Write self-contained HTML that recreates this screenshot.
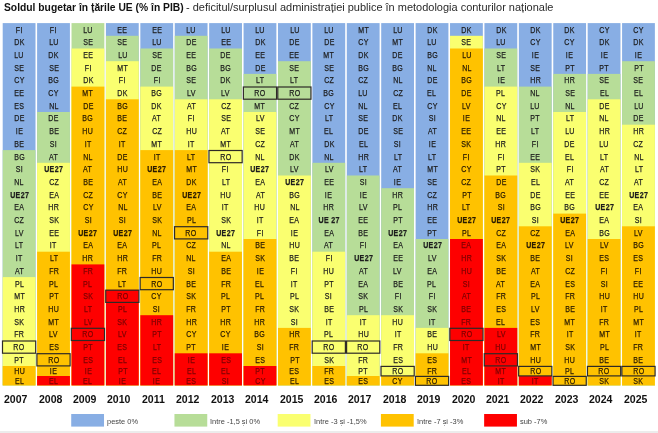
<!DOCTYPE html>
<html lang="ro">
<head>
<meta charset="utf-8">
<title>Soldul bugetar în țările UE</title>
<style>
html,body{margin:0;padding:0;background:#fff;}
body{width:658px;height:433px;position:relative;overflow:hidden;filter:blur(.5px);font-family:"Liberation Sans",sans-serif;color:#1c1c1c;}
#bg{position:absolute;left:0;top:0;}
#t1,#t2{position:absolute;white-space:nowrap;line-height:14px;transform-origin:0 0;}
#t1{left:4.2px;top:.3px;font-size:10.6px;font-weight:bold;color:#111;transform:scaleX(.972);}
#t2{left:185.5px;top:.1px;font-size:11.3px;color:#2a2a2a;transform:scaleX(.972);}
.c{position:absolute;top:0;width:32.8px;}
.c div{position:absolute;left:0;width:100%;text-align:center;font-size:8.7px;}
.c div span{display:inline-block;position:relative;top:.45px;transform:scaleX(.81);-webkit-text-stroke:.25px currentColor;letter-spacing:.4px;margin-right:-.4px;}
.c div.l span{top:.6px;}
.o{color:#2a1b00;}
.r{color:#7c0000;}
.u{font-weight:bold;}
.yr{position:absolute;top:390.6px;width:34px;text-align:center;font-weight:bold;font-size:11.4px;line-height:16px;color:#111;}
.yr span{display:inline-block;transform:scaleX(.925);}
.lg{position:absolute;top:414.5px;font-size:7.6px;line-height:13px;white-space:nowrap;color:#444;transform-origin:0 50%;transform:scaleX(.98);}
</style>
</head>
<body>

<svg id="bg" width="658" height="433" viewBox="0 0 658 433">
<rect x="0" y="431" width="658" height="2" fill="#ececec"/>
<rect x="2.70" y="23.10" width="32.8" height="362.30" fill="#88aee4"/>
<rect x="2.70" y="150.10" width="32.8" height="235.30" fill="#b7dd98"/>
<rect x="2.70" y="277.10" width="32.8" height="108.30" fill="#faff70"/>
<rect x="2.70" y="366.00" width="32.8" height="19.40" fill="#ffc200"/>
<rect x="37.11" y="23.10" width="32.8" height="362.30" fill="#88aee4"/>
<rect x="37.11" y="112.00" width="32.8" height="273.40" fill="#b7dd98"/>
<rect x="37.11" y="162.80" width="32.8" height="222.60" fill="#faff70"/>
<rect x="37.11" y="251.70" width="32.8" height="133.70" fill="#ffc200"/>
<rect x="37.11" y="376.00" width="32.8" height="9.40" fill="#fe0000"/>
<rect x="71.52" y="23.10" width="32.8" height="362.30" fill="#b7dd98"/>
<rect x="71.52" y="48.50" width="32.8" height="336.90" fill="#faff70"/>
<rect x="71.52" y="86.60" width="32.8" height="298.80" fill="#ffc200"/>
<rect x="71.52" y="264.40" width="32.8" height="121.00" fill="#fe0000"/>
<rect x="105.93" y="23.10" width="32.8" height="362.30" fill="#88aee4"/>
<rect x="105.93" y="35.80" width="32.8" height="349.60" fill="#b7dd98"/>
<rect x="105.93" y="61.20" width="32.8" height="324.20" fill="#faff70"/>
<rect x="105.93" y="99.30" width="32.8" height="286.10" fill="#ffc200"/>
<rect x="105.93" y="289.80" width="32.8" height="95.60" fill="#fe0000"/>
<rect x="140.34" y="23.10" width="32.8" height="362.30" fill="#88aee4"/>
<rect x="140.34" y="48.50" width="32.8" height="336.90" fill="#b7dd98"/>
<rect x="140.34" y="86.60" width="32.8" height="298.80" fill="#faff70"/>
<rect x="140.34" y="150.10" width="32.8" height="235.30" fill="#ffc200"/>
<rect x="140.34" y="315.20" width="32.8" height="70.20" fill="#fe0000"/>
<rect x="174.75" y="23.10" width="32.8" height="362.30" fill="#88aee4"/>
<rect x="174.75" y="35.80" width="32.8" height="349.60" fill="#b7dd98"/>
<rect x="174.75" y="99.30" width="32.8" height="286.10" fill="#faff70"/>
<rect x="174.75" y="150.10" width="32.8" height="235.30" fill="#ffc200"/>
<rect x="174.75" y="353.30" width="32.8" height="32.10" fill="#fe0000"/>
<rect x="209.16" y="23.10" width="32.8" height="362.30" fill="#88aee4"/>
<rect x="209.16" y="48.50" width="32.8" height="336.90" fill="#b7dd98"/>
<rect x="209.16" y="99.30" width="32.8" height="286.10" fill="#faff70"/>
<rect x="209.16" y="251.70" width="32.8" height="133.70" fill="#ffc200"/>
<rect x="209.16" y="353.30" width="32.8" height="32.10" fill="#fe0000"/>
<rect x="243.57" y="23.10" width="32.8" height="362.30" fill="#88aee4"/>
<rect x="243.57" y="73.90" width="32.8" height="311.50" fill="#b7dd98"/>
<rect x="243.57" y="112.00" width="32.8" height="273.40" fill="#faff70"/>
<rect x="243.57" y="239.00" width="32.8" height="146.40" fill="#ffc200"/>
<rect x="243.57" y="366.00" width="32.8" height="19.40" fill="#fe0000"/>
<rect x="277.98" y="23.10" width="32.8" height="362.30" fill="#88aee4"/>
<rect x="277.98" y="61.20" width="32.8" height="324.20" fill="#b7dd98"/>
<rect x="277.98" y="175.50" width="32.8" height="209.90" fill="#faff70"/>
<rect x="277.98" y="327.90" width="32.8" height="57.50" fill="#ffc200"/>
<rect x="312.39" y="23.10" width="32.8" height="362.30" fill="#88aee4"/>
<rect x="312.39" y="162.80" width="32.8" height="222.60" fill="#b7dd98"/>
<rect x="312.39" y="251.70" width="32.8" height="133.70" fill="#faff70"/>
<rect x="312.39" y="366.00" width="32.8" height="19.40" fill="#ffc200"/>
<rect x="346.80" y="23.10" width="32.8" height="362.30" fill="#88aee4"/>
<rect x="346.80" y="175.50" width="32.8" height="209.90" fill="#b7dd98"/>
<rect x="346.80" y="315.20" width="32.8" height="70.20" fill="#faff70"/>
<rect x="346.80" y="376.00" width="32.8" height="9.40" fill="#ffc200"/>
<rect x="381.21" y="23.10" width="32.8" height="362.30" fill="#88aee4"/>
<rect x="381.21" y="188.20" width="32.8" height="197.20" fill="#b7dd98"/>
<rect x="381.21" y="315.20" width="32.8" height="70.20" fill="#faff70"/>
<rect x="381.21" y="376.00" width="32.8" height="9.40" fill="#ffc200"/>
<rect x="415.62" y="23.10" width="32.8" height="362.30" fill="#88aee4"/>
<rect x="415.62" y="239.00" width="32.8" height="146.40" fill="#b7dd98"/>
<rect x="415.62" y="327.90" width="32.8" height="57.50" fill="#faff70"/>
<rect x="415.62" y="353.30" width="32.8" height="32.10" fill="#ffc200"/>
<rect x="450.03" y="23.10" width="32.8" height="362.30" fill="#88aee4"/>
<rect x="450.03" y="35.80" width="32.8" height="349.60" fill="#faff70"/>
<rect x="450.03" y="48.50" width="32.8" height="336.90" fill="#ffc200"/>
<rect x="450.03" y="239.00" width="32.8" height="146.40" fill="#fe0000"/>
<rect x="484.44" y="23.10" width="32.8" height="362.30" fill="#88aee4"/>
<rect x="484.44" y="48.50" width="32.8" height="336.90" fill="#b7dd98"/>
<rect x="484.44" y="86.60" width="32.8" height="298.80" fill="#faff70"/>
<rect x="484.44" y="175.50" width="32.8" height="209.90" fill="#ffc200"/>
<rect x="484.44" y="327.90" width="32.8" height="57.50" fill="#fe0000"/>
<rect x="518.85" y="23.10" width="32.8" height="362.30" fill="#88aee4"/>
<rect x="518.85" y="86.60" width="32.8" height="298.80" fill="#b7dd98"/>
<rect x="518.85" y="162.80" width="32.8" height="222.60" fill="#faff70"/>
<rect x="518.85" y="226.30" width="32.8" height="159.10" fill="#ffc200"/>
<rect x="518.85" y="376.00" width="32.8" height="9.40" fill="#fe0000"/>
<rect x="553.26" y="23.10" width="32.8" height="362.30" fill="#88aee4"/>
<rect x="553.26" y="73.90" width="32.8" height="311.50" fill="#b7dd98"/>
<rect x="553.26" y="112.00" width="32.8" height="273.40" fill="#faff70"/>
<rect x="553.26" y="213.60" width="32.8" height="171.80" fill="#ffc200"/>
<rect x="587.67" y="23.10" width="32.8" height="362.30" fill="#88aee4"/>
<rect x="587.67" y="73.90" width="32.8" height="311.50" fill="#b7dd98"/>
<rect x="587.67" y="99.30" width="32.8" height="286.10" fill="#faff70"/>
<rect x="587.67" y="239.00" width="32.8" height="146.40" fill="#ffc200"/>
<rect x="622.08" y="23.10" width="32.8" height="362.30" fill="#88aee4"/>
<rect x="622.08" y="61.20" width="32.8" height="324.20" fill="#b7dd98"/>
<rect x="622.08" y="124.70" width="32.8" height="260.70" fill="#faff70"/>
<rect x="622.08" y="226.30" width="32.8" height="159.10" fill="#ffc200"/>
<g fill="none" stroke="#2e2a26" stroke-width="1.2">
<rect x="2.50" y="341.00" width="33.20" height="12.20"/>
<rect x="36.91" y="353.70" width="33.20" height="12.20"/>
<rect x="71.32" y="328.30" width="33.20" height="12.20"/>
<rect x="105.73" y="290.20" width="33.20" height="12.20"/>
<rect x="140.14" y="277.50" width="33.20" height="12.20"/>
<rect x="174.55" y="226.70" width="33.20" height="12.20"/>
<rect x="208.96" y="150.50" width="33.20" height="12.20"/>
<rect x="243.37" y="87.00" width="33.20" height="12.20"/>
<rect x="277.78" y="87.00" width="33.20" height="12.20"/>
<rect x="312.19" y="341.00" width="33.20" height="12.20"/>
<rect x="346.60" y="341.00" width="33.20" height="12.20"/>
<rect x="381.01" y="366.40" width="33.20" height="9.50"/>
<rect x="415.42" y="376.40" width="33.20" height="8.90"/>
<rect x="449.83" y="328.30" width="33.20" height="12.20"/>
<rect x="484.24" y="353.70" width="33.20" height="12.20"/>
<rect x="518.65" y="366.40" width="33.20" height="9.50"/>
<rect x="553.06" y="376.40" width="33.20" height="8.90"/>
<rect x="587.47" y="366.40" width="33.20" height="9.50"/>
<rect x="621.88" y="366.40" width="33.20" height="9.50"/>
</g>
<rect x="71.22" y="414" width="32.8" height="12.6" fill="#88aee4"/>
<rect x="174.45" y="414" width="32.8" height="12.6" fill="#b7dd98"/>
<rect x="277.68" y="414" width="32.8" height="12.6" fill="#faff70"/>
<rect x="380.91" y="414" width="32.8" height="12.6" fill="#ffc200"/>
<rect x="484.14" y="414" width="32.8" height="12.6" fill="#fe0000"/>
</svg>
<div id="t1">Soldul bugetar în țările UE (% în PIB)</div><div id="t2">- deficitul/surplusul administrației publice în metodologia conturilor naționale</div>
<div class="c" style="left:2.70px">
<div style="top:23.10px;height:12.70px;line-height:12.70px"><span>FI</span></div>
<div style="top:35.80px;height:12.70px;line-height:12.70px"><span>DK</span></div>
<div style="top:48.50px;height:12.70px;line-height:12.70px"><span>LU</span></div>
<div style="top:61.20px;height:12.70px;line-height:12.70px"><span>SE</span></div>
<div style="top:73.90px;height:12.70px;line-height:12.70px"><span>CY</span></div>
<div style="top:86.60px;height:12.70px;line-height:12.70px"><span>EE</span></div>
<div style="top:99.30px;height:12.70px;line-height:12.70px"><span>ES</span></div>
<div style="top:112.00px;height:12.70px;line-height:12.70px"><span>DE</span></div>
<div style="top:124.70px;height:12.70px;line-height:12.70px"><span>IE</span></div>
<div style="top:137.40px;height:12.70px;line-height:12.70px"><span>BE</span></div>
<div style="top:150.10px;height:12.70px;line-height:12.70px"><span>BG</span></div>
<div style="top:162.80px;height:12.70px;line-height:12.70px"><span>SI</span></div>
<div style="top:175.50px;height:12.70px;line-height:12.70px"><span>NL</span></div>
<div class="u" style="top:188.20px;height:12.70px;line-height:12.70px"><span>UE27</span></div>
<div style="top:200.90px;height:12.70px;line-height:12.70px"><span>EA</span></div>
<div style="top:213.60px;height:12.70px;line-height:12.70px"><span>CZ</span></div>
<div style="top:226.30px;height:12.70px;line-height:12.70px"><span>LV</span></div>
<div style="top:239.00px;height:12.70px;line-height:12.70px"><span>LT</span></div>
<div style="top:251.70px;height:12.70px;line-height:12.70px"><span>IT</span></div>
<div style="top:264.40px;height:12.70px;line-height:12.70px"><span>AT</span></div>
<div style="top:277.10px;height:12.70px;line-height:12.70px"><span>PL</span></div>
<div style="top:289.80px;height:12.70px;line-height:12.70px"><span>MT</span></div>
<div style="top:302.50px;height:12.70px;line-height:12.70px"><span>HR</span></div>
<div style="top:315.20px;height:12.70px;line-height:12.70px"><span>SK</span></div>
<div style="top:327.90px;height:12.70px;line-height:12.70px"><span>FR</span></div>
<div style="top:340.60px;height:12.70px;line-height:12.70px"><span>RO</span></div>
<div style="top:353.30px;height:12.70px;line-height:12.70px"><span>PT</span></div>
<div class="o" style="top:366.00px;height:10.00px;line-height:10.00px"><span>HU</span></div>
<div class="o l" style="top:376.00px;height:9.40px;line-height:9.40px"><span>EL</span></div>
</div>
<div class="c" style="left:37.11px">
<div style="top:23.10px;height:12.70px;line-height:12.70px"><span>FI</span></div>
<div style="top:35.80px;height:12.70px;line-height:12.70px"><span>LU</span></div>
<div style="top:48.50px;height:12.70px;line-height:12.70px"><span>DK</span></div>
<div style="top:61.20px;height:12.70px;line-height:12.70px"><span>SE</span></div>
<div style="top:73.90px;height:12.70px;line-height:12.70px"><span>BG</span></div>
<div style="top:86.60px;height:12.70px;line-height:12.70px"><span>CY</span></div>
<div style="top:99.30px;height:12.70px;line-height:12.70px"><span>NL</span></div>
<div style="top:112.00px;height:12.70px;line-height:12.70px"><span>DE</span></div>
<div style="top:124.70px;height:12.70px;line-height:12.70px"><span>BE</span></div>
<div style="top:137.40px;height:12.70px;line-height:12.70px"><span>SI</span></div>
<div style="top:150.10px;height:12.70px;line-height:12.70px"><span>AT</span></div>
<div class="u" style="top:162.80px;height:12.70px;line-height:12.70px"><span>UE27</span></div>
<div style="top:175.50px;height:12.70px;line-height:12.70px"><span>CZ</span></div>
<div style="top:188.20px;height:12.70px;line-height:12.70px"><span>EA</span></div>
<div style="top:200.90px;height:12.70px;line-height:12.70px"><span>HR</span></div>
<div style="top:213.60px;height:12.70px;line-height:12.70px"><span>SK</span></div>
<div style="top:226.30px;height:12.70px;line-height:12.70px"><span>EE</span></div>
<div style="top:239.00px;height:12.70px;line-height:12.70px"><span>IT</span></div>
<div class="o" style="top:251.70px;height:12.70px;line-height:12.70px"><span>LT</span></div>
<div class="o" style="top:264.40px;height:12.70px;line-height:12.70px"><span>FR</span></div>
<div class="o" style="top:277.10px;height:12.70px;line-height:12.70px"><span>PL</span></div>
<div class="o" style="top:289.80px;height:12.70px;line-height:12.70px"><span>PT</span></div>
<div class="o" style="top:302.50px;height:12.70px;line-height:12.70px"><span>HU</span></div>
<div class="o" style="top:315.20px;height:12.70px;line-height:12.70px"><span>MT</span></div>
<div class="o" style="top:327.90px;height:12.70px;line-height:12.70px"><span>LV</span></div>
<div class="o" style="top:340.60px;height:12.70px;line-height:12.70px"><span>ES</span></div>
<div class="o" style="top:353.30px;height:12.70px;line-height:12.70px"><span>RO</span></div>
<div class="o" style="top:366.00px;height:10.00px;line-height:10.00px"><span>IE</span></div>
<div class="r l" style="top:376.00px;height:9.40px;line-height:9.40px"><span>EL</span></div>
</div>
<div class="c" style="left:71.52px">
<div style="top:23.10px;height:12.70px;line-height:12.70px"><span>LU</span></div>
<div style="top:35.80px;height:12.70px;line-height:12.70px"><span>SE</span></div>
<div style="top:48.50px;height:12.70px;line-height:12.70px"><span>EE</span></div>
<div style="top:61.20px;height:12.70px;line-height:12.70px"><span>FI</span></div>
<div style="top:73.90px;height:12.70px;line-height:12.70px"><span>DK</span></div>
<div class="o" style="top:86.60px;height:12.70px;line-height:12.70px"><span>MT</span></div>
<div class="o" style="top:99.30px;height:12.70px;line-height:12.70px"><span>DE</span></div>
<div class="o" style="top:112.00px;height:12.70px;line-height:12.70px"><span>BG</span></div>
<div class="o" style="top:124.70px;height:12.70px;line-height:12.70px"><span>HU</span></div>
<div class="o" style="top:137.40px;height:12.70px;line-height:12.70px"><span>IT</span></div>
<div class="o" style="top:150.10px;height:12.70px;line-height:12.70px"><span>NL</span></div>
<div class="o" style="top:162.80px;height:12.70px;line-height:12.70px"><span>AT</span></div>
<div class="o" style="top:175.50px;height:12.70px;line-height:12.70px"><span>BE</span></div>
<div class="o" style="top:188.20px;height:12.70px;line-height:12.70px"><span>CZ</span></div>
<div class="o" style="top:200.90px;height:12.70px;line-height:12.70px"><span>CY</span></div>
<div class="o" style="top:213.60px;height:12.70px;line-height:12.70px"><span>SI</span></div>
<div class="o u" style="top:226.30px;height:12.70px;line-height:12.70px"><span>UE27</span></div>
<div class="o" style="top:239.00px;height:12.70px;line-height:12.70px"><span>EA</span></div>
<div class="o" style="top:251.70px;height:12.70px;line-height:12.70px"><span>HR</span></div>
<div class="r" style="top:264.40px;height:12.70px;line-height:12.70px"><span>FR</span></div>
<div class="r" style="top:277.10px;height:12.70px;line-height:12.70px"><span>PL</span></div>
<div class="r" style="top:289.80px;height:12.70px;line-height:12.70px"><span>SK</span></div>
<div class="r" style="top:302.50px;height:12.70px;line-height:12.70px"><span>LT</span></div>
<div class="r" style="top:315.20px;height:12.70px;line-height:12.70px"><span>LV</span></div>
<div class="r" style="top:327.90px;height:12.70px;line-height:12.70px"><span>RO</span></div>
<div class="r" style="top:340.60px;height:12.70px;line-height:12.70px"><span>PT</span></div>
<div class="r" style="top:353.30px;height:12.70px;line-height:12.70px"><span>ES</span></div>
<div class="r" style="top:366.00px;height:10.00px;line-height:10.00px"><span>IE</span></div>
<div class="r l" style="top:376.00px;height:9.40px;line-height:9.40px"><span>EL</span></div>
</div>
<div class="c" style="left:105.93px">
<div style="top:23.10px;height:12.70px;line-height:12.70px"><span>EE</span></div>
<div style="top:35.80px;height:12.70px;line-height:12.70px"><span>SE</span></div>
<div style="top:48.50px;height:12.70px;line-height:12.70px"><span>LU</span></div>
<div style="top:61.20px;height:12.70px;line-height:12.70px"><span>MT</span></div>
<div style="top:73.90px;height:12.70px;line-height:12.70px"><span>FI</span></div>
<div style="top:86.60px;height:12.70px;line-height:12.70px"><span>DK</span></div>
<div class="o" style="top:99.30px;height:12.70px;line-height:12.70px"><span>BG</span></div>
<div class="o" style="top:112.00px;height:12.70px;line-height:12.70px"><span>BE</span></div>
<div class="o" style="top:124.70px;height:12.70px;line-height:12.70px"><span>CZ</span></div>
<div class="o" style="top:137.40px;height:12.70px;line-height:12.70px"><span>IT</span></div>
<div class="o" style="top:150.10px;height:12.70px;line-height:12.70px"><span>DE</span></div>
<div class="o" style="top:162.80px;height:12.70px;line-height:12.70px"><span>HU</span></div>
<div class="o" style="top:175.50px;height:12.70px;line-height:12.70px"><span>AT</span></div>
<div class="o" style="top:188.20px;height:12.70px;line-height:12.70px"><span>CY</span></div>
<div class="o" style="top:200.90px;height:12.70px;line-height:12.70px"><span>NL</span></div>
<div class="o" style="top:213.60px;height:12.70px;line-height:12.70px"><span>SI</span></div>
<div class="o u" style="top:226.30px;height:12.70px;line-height:12.70px"><span>UE27</span></div>
<div class="o" style="top:239.00px;height:12.70px;line-height:12.70px"><span>EA</span></div>
<div class="o" style="top:251.70px;height:12.70px;line-height:12.70px"><span>HR</span></div>
<div class="o" style="top:264.40px;height:12.70px;line-height:12.70px"><span>FR</span></div>
<div class="o" style="top:277.10px;height:12.70px;line-height:12.70px"><span>LT</span></div>
<div class="r" style="top:289.80px;height:12.70px;line-height:12.70px"><span>RO</span></div>
<div class="r" style="top:302.50px;height:12.70px;line-height:12.70px"><span>PL</span></div>
<div class="r" style="top:315.20px;height:12.70px;line-height:12.70px"><span>SK</span></div>
<div class="r" style="top:327.90px;height:12.70px;line-height:12.70px"><span>LV</span></div>
<div class="r" style="top:340.60px;height:12.70px;line-height:12.70px"><span>ES</span></div>
<div class="r" style="top:353.30px;height:12.70px;line-height:12.70px"><span>EL</span></div>
<div class="r" style="top:366.00px;height:10.00px;line-height:10.00px"><span>PT</span></div>
<div class="r l" style="top:376.00px;height:9.40px;line-height:9.40px"><span>IE</span></div>
</div>
<div class="c" style="left:140.34px">
<div style="top:23.10px;height:12.70px;line-height:12.70px"><span>EE</span></div>
<div style="top:35.80px;height:12.70px;line-height:12.70px"><span>LU</span></div>
<div style="top:48.50px;height:12.70px;line-height:12.70px"><span>SE</span></div>
<div style="top:61.20px;height:12.70px;line-height:12.70px"><span>DE</span></div>
<div style="top:73.90px;height:12.70px;line-height:12.70px"><span>FI</span></div>
<div style="top:86.60px;height:12.70px;line-height:12.70px"><span>BG</span></div>
<div style="top:99.30px;height:12.70px;line-height:12.70px"><span>DK</span></div>
<div style="top:112.00px;height:12.70px;line-height:12.70px"><span>AT</span></div>
<div style="top:124.70px;height:12.70px;line-height:12.70px"><span>CZ</span></div>
<div style="top:137.40px;height:12.70px;line-height:12.70px"><span>MT</span></div>
<div class="o" style="top:150.10px;height:12.70px;line-height:12.70px"><span>IT</span></div>
<div class="o u" style="top:162.80px;height:12.70px;line-height:12.70px"><span>UE27</span></div>
<div class="o" style="top:175.50px;height:12.70px;line-height:12.70px"><span>EA</span></div>
<div class="o" style="top:188.20px;height:12.70px;line-height:12.70px"><span>BE</span></div>
<div class="o" style="top:200.90px;height:12.70px;line-height:12.70px"><span>LV</span></div>
<div class="o" style="top:213.60px;height:12.70px;line-height:12.70px"><span>SK</span></div>
<div class="o" style="top:226.30px;height:12.70px;line-height:12.70px"><span>NL</span></div>
<div class="o" style="top:239.00px;height:12.70px;line-height:12.70px"><span>PL</span></div>
<div class="o" style="top:251.70px;height:12.70px;line-height:12.70px"><span>FR</span></div>
<div class="o" style="top:264.40px;height:12.70px;line-height:12.70px"><span>HU</span></div>
<div class="o" style="top:277.10px;height:12.70px;line-height:12.70px"><span>RO</span></div>
<div class="o" style="top:289.80px;height:12.70px;line-height:12.70px"><span>CY</span></div>
<div class="o" style="top:302.50px;height:12.70px;line-height:12.70px"><span>SI</span></div>
<div class="r" style="top:315.20px;height:12.70px;line-height:12.70px"><span>HR</span></div>
<div class="r" style="top:327.90px;height:12.70px;line-height:12.70px"><span>PT</span></div>
<div class="r" style="top:340.60px;height:12.70px;line-height:12.70px"><span>LT</span></div>
<div class="r" style="top:353.30px;height:12.70px;line-height:12.70px"><span>ES</span></div>
<div class="r" style="top:366.00px;height:10.00px;line-height:10.00px"><span>EL</span></div>
<div class="r l" style="top:376.00px;height:9.40px;line-height:9.40px"><span>IE</span></div>
</div>
<div class="c" style="left:174.75px">
<div style="top:23.10px;height:12.70px;line-height:12.70px"><span>LU</span></div>
<div style="top:35.80px;height:12.70px;line-height:12.70px"><span>DE</span></div>
<div style="top:48.50px;height:12.70px;line-height:12.70px"><span>EE</span></div>
<div style="top:61.20px;height:12.70px;line-height:12.70px"><span>BG</span></div>
<div style="top:73.90px;height:12.70px;line-height:12.70px"><span>SE</span></div>
<div style="top:86.60px;height:12.70px;line-height:12.70px"><span>LV</span></div>
<div style="top:99.30px;height:12.70px;line-height:12.70px"><span>AT</span></div>
<div style="top:112.00px;height:12.70px;line-height:12.70px"><span>FI</span></div>
<div style="top:124.70px;height:12.70px;line-height:12.70px"><span>HU</span></div>
<div style="top:137.40px;height:12.70px;line-height:12.70px"><span>IT</span></div>
<div class="o" style="top:150.10px;height:12.70px;line-height:12.70px"><span>LT</span></div>
<div class="o" style="top:162.80px;height:12.70px;line-height:12.70px"><span>MT</span></div>
<div class="o" style="top:175.50px;height:12.70px;line-height:12.70px"><span>DK</span></div>
<div class="o u" style="top:188.20px;height:12.70px;line-height:12.70px"><span>UE27</span></div>
<div class="o" style="top:200.90px;height:12.70px;line-height:12.70px"><span>EA</span></div>
<div class="o" style="top:213.60px;height:12.70px;line-height:12.70px"><span>PL</span></div>
<div class="o" style="top:226.30px;height:12.70px;line-height:12.70px"><span>RO</span></div>
<div class="o" style="top:239.00px;height:12.70px;line-height:12.70px"><span>CZ</span></div>
<div class="o" style="top:251.70px;height:12.70px;line-height:12.70px"><span>NL</span></div>
<div class="o" style="top:264.40px;height:12.70px;line-height:12.70px"><span>SI</span></div>
<div class="o" style="top:277.10px;height:12.70px;line-height:12.70px"><span>BE</span></div>
<div class="o" style="top:289.80px;height:12.70px;line-height:12.70px"><span>SK</span></div>
<div class="o" style="top:302.50px;height:12.70px;line-height:12.70px"><span>FR</span></div>
<div class="o" style="top:315.20px;height:12.70px;line-height:12.70px"><span>HR</span></div>
<div class="o" style="top:327.90px;height:12.70px;line-height:12.70px"><span>CY</span></div>
<div class="o" style="top:340.60px;height:12.70px;line-height:12.70px"><span>PT</span></div>
<div class="r" style="top:353.30px;height:12.70px;line-height:12.70px"><span>IE</span></div>
<div class="r" style="top:366.00px;height:10.00px;line-height:10.00px"><span>EL</span></div>
<div class="r l" style="top:376.00px;height:9.40px;line-height:9.40px"><span>ES</span></div>
</div>
<div class="c" style="left:209.16px">
<div style="top:23.10px;height:12.70px;line-height:12.70px"><span>LU</span></div>
<div style="top:35.80px;height:12.70px;line-height:12.70px"><span>EE</span></div>
<div style="top:48.50px;height:12.70px;line-height:12.70px"><span>DE</span></div>
<div style="top:61.20px;height:12.70px;line-height:12.70px"><span>BG</span></div>
<div style="top:73.90px;height:12.70px;line-height:12.70px"><span>DK</span></div>
<div style="top:86.60px;height:12.70px;line-height:12.70px"><span>LV</span></div>
<div style="top:99.30px;height:12.70px;line-height:12.70px"><span>CZ</span></div>
<div style="top:112.00px;height:12.70px;line-height:12.70px"><span>SE</span></div>
<div style="top:124.70px;height:12.70px;line-height:12.70px"><span>AT</span></div>
<div style="top:137.40px;height:12.70px;line-height:12.70px"><span>MT</span></div>
<div style="top:150.10px;height:12.70px;line-height:12.70px"><span>RO</span></div>
<div style="top:162.80px;height:12.70px;line-height:12.70px"><span>FI</span></div>
<div style="top:175.50px;height:12.70px;line-height:12.70px"><span>LT</span></div>
<div style="top:188.20px;height:12.70px;line-height:12.70px"><span>HU</span></div>
<div style="top:200.90px;height:12.70px;line-height:12.70px"><span>IT</span></div>
<div style="top:213.60px;height:12.70px;line-height:12.70px"><span>SK</span></div>
<div class="u" style="top:226.30px;height:12.70px;line-height:12.70px"><span>UE27</span></div>
<div style="top:239.00px;height:12.70px;line-height:12.70px"><span>NL</span></div>
<div class="o" style="top:251.70px;height:12.70px;line-height:12.70px"><span>EA</span></div>
<div class="o" style="top:264.40px;height:12.70px;line-height:12.70px"><span>BE</span></div>
<div class="o" style="top:277.10px;height:12.70px;line-height:12.70px"><span>FR</span></div>
<div class="o" style="top:289.80px;height:12.70px;line-height:12.70px"><span>PL</span></div>
<div class="o" style="top:302.50px;height:12.70px;line-height:12.70px"><span>PT</span></div>
<div class="o" style="top:315.20px;height:12.70px;line-height:12.70px"><span>HR</span></div>
<div class="o" style="top:327.90px;height:12.70px;line-height:12.70px"><span>CY</span></div>
<div class="o" style="top:340.60px;height:12.70px;line-height:12.70px"><span>IE</span></div>
<div class="r" style="top:353.30px;height:12.70px;line-height:12.70px"><span>ES</span></div>
<div class="r" style="top:366.00px;height:10.00px;line-height:10.00px"><span>EL</span></div>
<div class="r l" style="top:376.00px;height:9.40px;line-height:9.40px"><span>SI</span></div>
</div>
<div class="c" style="left:243.57px">
<div style="top:23.10px;height:12.70px;line-height:12.70px"><span>LU</span></div>
<div style="top:35.80px;height:12.70px;line-height:12.70px"><span>DK</span></div>
<div style="top:48.50px;height:12.70px;line-height:12.70px"><span>EE</span></div>
<div style="top:61.20px;height:12.70px;line-height:12.70px"><span>DE</span></div>
<div style="top:73.90px;height:12.70px;line-height:12.70px"><span>LT</span></div>
<div style="top:86.60px;height:12.70px;line-height:12.70px"><span>RO</span></div>
<div style="top:99.30px;height:12.70px;line-height:12.70px"><span>MT</span></div>
<div style="top:112.00px;height:12.70px;line-height:12.70px"><span>LV</span></div>
<div style="top:124.70px;height:12.70px;line-height:12.70px"><span>SE</span></div>
<div style="top:137.40px;height:12.70px;line-height:12.70px"><span>CZ</span></div>
<div style="top:150.10px;height:12.70px;line-height:12.70px"><span>NL</span></div>
<div class="u" style="top:162.80px;height:12.70px;line-height:12.70px"><span>UE27</span></div>
<div style="top:175.50px;height:12.70px;line-height:12.70px"><span>EA</span></div>
<div style="top:188.20px;height:12.70px;line-height:12.70px"><span>AT</span></div>
<div style="top:200.90px;height:12.70px;line-height:12.70px"><span>HU</span></div>
<div style="top:213.60px;height:12.70px;line-height:12.70px"><span>IT</span></div>
<div style="top:226.30px;height:12.70px;line-height:12.70px"><span>FI</span></div>
<div class="o" style="top:239.00px;height:12.70px;line-height:12.70px"><span>BE</span></div>
<div class="o" style="top:251.70px;height:12.70px;line-height:12.70px"><span>SK</span></div>
<div class="o" style="top:264.40px;height:12.70px;line-height:12.70px"><span>IE</span></div>
<div class="o" style="top:277.10px;height:12.70px;line-height:12.70px"><span>EL</span></div>
<div class="o" style="top:289.80px;height:12.70px;line-height:12.70px"><span>PL</span></div>
<div class="o" style="top:302.50px;height:12.70px;line-height:12.70px"><span>FR</span></div>
<div class="o" style="top:315.20px;height:12.70px;line-height:12.70px"><span>HR</span></div>
<div class="o" style="top:327.90px;height:12.70px;line-height:12.70px"><span>BG</span></div>
<div class="o" style="top:340.60px;height:12.70px;line-height:12.70px"><span>SI</span></div>
<div class="o" style="top:353.30px;height:12.70px;line-height:12.70px"><span>ES</span></div>
<div class="r" style="top:366.00px;height:10.00px;line-height:10.00px"><span>PT</span></div>
<div class="r l" style="top:376.00px;height:9.40px;line-height:9.40px"><span>CY</span></div>
</div>
<div class="c" style="left:277.98px">
<div style="top:23.10px;height:12.70px;line-height:12.70px"><span>LU</span></div>
<div style="top:35.80px;height:12.70px;line-height:12.70px"><span>DE</span></div>
<div style="top:48.50px;height:12.70px;line-height:12.70px"><span>EE</span></div>
<div style="top:61.20px;height:12.70px;line-height:12.70px"><span>SE</span></div>
<div style="top:73.90px;height:12.70px;line-height:12.70px"><span>LT</span></div>
<div style="top:86.60px;height:12.70px;line-height:12.70px"><span>RO</span></div>
<div style="top:99.30px;height:12.70px;line-height:12.70px"><span>CZ</span></div>
<div style="top:112.00px;height:12.70px;line-height:12.70px"><span>CY</span></div>
<div style="top:124.70px;height:12.70px;line-height:12.70px"><span>MT</span></div>
<div style="top:137.40px;height:12.70px;line-height:12.70px"><span>AT</span></div>
<div style="top:150.10px;height:12.70px;line-height:12.70px"><span>DK</span></div>
<div style="top:162.80px;height:12.70px;line-height:12.70px"><span>LV</span></div>
<div class="u" style="top:175.50px;height:12.70px;line-height:12.70px"><span>UE27</span></div>
<div style="top:188.20px;height:12.70px;line-height:12.70px"><span>BG</span></div>
<div style="top:200.90px;height:12.70px;line-height:12.70px"><span>NL</span></div>
<div style="top:213.60px;height:12.70px;line-height:12.70px"><span>EA</span></div>
<div style="top:226.30px;height:12.70px;line-height:12.70px"><span>IE</span></div>
<div style="top:239.00px;height:12.70px;line-height:12.70px"><span>HU</span></div>
<div style="top:251.70px;height:12.70px;line-height:12.70px"><span>BE</span></div>
<div style="top:264.40px;height:12.70px;line-height:12.70px"><span>FI</span></div>
<div style="top:277.10px;height:12.70px;line-height:12.70px"><span>IT</span></div>
<div style="top:289.80px;height:12.70px;line-height:12.70px"><span>PL</span></div>
<div style="top:302.50px;height:12.70px;line-height:12.70px"><span>SK</span></div>
<div style="top:315.20px;height:12.70px;line-height:12.70px"><span>SI</span></div>
<div class="o" style="top:327.90px;height:12.70px;line-height:12.70px"><span>HR</span></div>
<div class="o" style="top:340.60px;height:12.70px;line-height:12.70px"><span>FR</span></div>
<div class="o" style="top:353.30px;height:12.70px;line-height:12.70px"><span>PT</span></div>
<div class="o" style="top:366.00px;height:10.00px;line-height:10.00px"><span>ES</span></div>
<div class="o l" style="top:376.00px;height:9.40px;line-height:9.40px"><span>EL</span></div>
</div>
<div class="c" style="left:312.39px">
<div style="top:23.10px;height:12.70px;line-height:12.70px"><span>LU</span></div>
<div style="top:35.80px;height:12.70px;line-height:12.70px"><span>DE</span></div>
<div style="top:48.50px;height:12.70px;line-height:12.70px"><span>MT</span></div>
<div style="top:61.20px;height:12.70px;line-height:12.70px"><span>SE</span></div>
<div style="top:73.90px;height:12.70px;line-height:12.70px"><span>CZ</span></div>
<div style="top:86.60px;height:12.70px;line-height:12.70px"><span>BG</span></div>
<div style="top:99.30px;height:12.70px;line-height:12.70px"><span>CY</span></div>
<div style="top:112.00px;height:12.70px;line-height:12.70px"><span>LT</span></div>
<div style="top:124.70px;height:12.70px;line-height:12.70px"><span>EL</span></div>
<div style="top:137.40px;height:12.70px;line-height:12.70px"><span>DK</span></div>
<div style="top:150.10px;height:12.70px;line-height:12.70px"><span>NL</span></div>
<div style="top:162.80px;height:12.70px;line-height:12.70px"><span>LV</span></div>
<div style="top:175.50px;height:12.70px;line-height:12.70px"><span>EE</span></div>
<div style="top:188.20px;height:12.70px;line-height:12.70px"><span>IE</span></div>
<div style="top:200.90px;height:12.70px;line-height:12.70px"><span>HR</span></div>
<div class="u" style="top:213.60px;height:12.70px;line-height:12.70px"><span>UE 27</span></div>
<div style="top:226.30px;height:12.70px;line-height:12.70px"><span>EA</span></div>
<div style="top:239.00px;height:12.70px;line-height:12.70px"><span>AT</span></div>
<div style="top:251.70px;height:12.70px;line-height:12.70px"><span>FI</span></div>
<div style="top:264.40px;height:12.70px;line-height:12.70px"><span>HU</span></div>
<div style="top:277.10px;height:12.70px;line-height:12.70px"><span>PT</span></div>
<div style="top:289.80px;height:12.70px;line-height:12.70px"><span>SI</span></div>
<div style="top:302.50px;height:12.70px;line-height:12.70px"><span>BE</span></div>
<div style="top:315.20px;height:12.70px;line-height:12.70px"><span>IT</span></div>
<div style="top:327.90px;height:12.70px;line-height:12.70px"><span>PL</span></div>
<div style="top:340.60px;height:12.70px;line-height:12.70px"><span>RO</span></div>
<div style="top:353.30px;height:12.70px;line-height:12.70px"><span>SK</span></div>
<div class="o" style="top:366.00px;height:10.00px;line-height:10.00px"><span>FR</span></div>
<div class="o l" style="top:376.00px;height:9.40px;line-height:9.40px"><span>ES</span></div>
</div>
<div class="c" style="left:346.80px">
<div style="top:23.10px;height:12.70px;line-height:12.70px"><span>MT</span></div>
<div style="top:35.80px;height:12.70px;line-height:12.70px"><span>CY</span></div>
<div style="top:48.50px;height:12.70px;line-height:12.70px"><span>DK</span></div>
<div style="top:61.20px;height:12.70px;line-height:12.70px"><span>BG</span></div>
<div style="top:73.90px;height:12.70px;line-height:12.70px"><span>CZ</span></div>
<div style="top:86.60px;height:12.70px;line-height:12.70px"><span>LU</span></div>
<div style="top:99.30px;height:12.70px;line-height:12.70px"><span>NL</span></div>
<div style="top:112.00px;height:12.70px;line-height:12.70px"><span>SE</span></div>
<div style="top:124.70px;height:12.70px;line-height:12.70px"><span>DE</span></div>
<div style="top:137.40px;height:12.70px;line-height:12.70px"><span>EL</span></div>
<div style="top:150.10px;height:12.70px;line-height:12.70px"><span>HR</span></div>
<div style="top:162.80px;height:12.70px;line-height:12.70px"><span>LT</span></div>
<div style="top:175.50px;height:12.70px;line-height:12.70px"><span>SI</span></div>
<div style="top:188.20px;height:12.70px;line-height:12.70px"><span>IE</span></div>
<div style="top:200.90px;height:12.70px;line-height:12.70px"><span>LV</span></div>
<div style="top:213.60px;height:12.70px;line-height:12.70px"><span>EE</span></div>
<div style="top:226.30px;height:12.70px;line-height:12.70px"><span>BE</span></div>
<div style="top:239.00px;height:12.70px;line-height:12.70px"><span>FI</span></div>
<div class="u" style="top:251.70px;height:12.70px;line-height:12.70px"><span>UE27</span></div>
<div style="top:264.40px;height:12.70px;line-height:12.70px"><span>AT</span></div>
<div style="top:277.10px;height:12.70px;line-height:12.70px"><span>EA</span></div>
<div style="top:289.80px;height:12.70px;line-height:12.70px"><span>SK</span></div>
<div style="top:302.50px;height:12.70px;line-height:12.70px"><span>PL</span></div>
<div style="top:315.20px;height:12.70px;line-height:12.70px"><span>IT</span></div>
<div style="top:327.90px;height:12.70px;line-height:12.70px"><span>HU</span></div>
<div style="top:340.60px;height:12.70px;line-height:12.70px"><span>RO</span></div>
<div style="top:353.30px;height:12.70px;line-height:12.70px"><span>FR</span></div>
<div style="top:366.00px;height:10.00px;line-height:10.00px"><span>PT</span></div>
<div class="o l" style="top:376.00px;height:9.40px;line-height:9.40px"><span>ES</span></div>
</div>
<div class="c" style="left:381.21px">
<div style="top:23.10px;height:12.70px;line-height:12.70px"><span>LU</span></div>
<div style="top:35.80px;height:12.70px;line-height:12.70px"><span>MT</span></div>
<div style="top:48.50px;height:12.70px;line-height:12.70px"><span>DE</span></div>
<div style="top:61.20px;height:12.70px;line-height:12.70px"><span>BG</span></div>
<div style="top:73.90px;height:12.70px;line-height:12.70px"><span>NL</span></div>
<div style="top:86.60px;height:12.70px;line-height:12.70px"><span>CZ</span></div>
<div style="top:99.30px;height:12.70px;line-height:12.70px"><span>EL</span></div>
<div style="top:112.00px;height:12.70px;line-height:12.70px"><span>DK</span></div>
<div style="top:124.70px;height:12.70px;line-height:12.70px"><span>SE</span></div>
<div style="top:137.40px;height:12.70px;line-height:12.70px"><span>SI</span></div>
<div style="top:150.10px;height:12.70px;line-height:12.70px"><span>LT</span></div>
<div style="top:162.80px;height:12.70px;line-height:12.70px"><span>AT</span></div>
<div style="top:175.50px;height:12.70px;line-height:12.70px"><span>IE</span></div>
<div style="top:188.20px;height:12.70px;line-height:12.70px"><span>HR</span></div>
<div style="top:200.90px;height:12.70px;line-height:12.70px"><span>PL</span></div>
<div style="top:213.60px;height:12.70px;line-height:12.70px"><span>PT</span></div>
<div class="u" style="top:226.30px;height:12.70px;line-height:12.70px"><span>UE27</span></div>
<div style="top:239.00px;height:12.70px;line-height:12.70px"><span>EA</span></div>
<div style="top:251.70px;height:12.70px;line-height:12.70px"><span>EE</span></div>
<div style="top:264.40px;height:12.70px;line-height:12.70px"><span>LV</span></div>
<div style="top:277.10px;height:12.70px;line-height:12.70px"><span>BE</span></div>
<div style="top:289.80px;height:12.70px;line-height:12.70px"><span>FI</span></div>
<div style="top:302.50px;height:12.70px;line-height:12.70px"><span>SK</span></div>
<div style="top:315.20px;height:12.70px;line-height:12.70px"><span>HU</span></div>
<div style="top:327.90px;height:12.70px;line-height:12.70px"><span>IT</span></div>
<div style="top:340.60px;height:12.70px;line-height:12.70px"><span>FR</span></div>
<div style="top:353.30px;height:12.70px;line-height:12.70px"><span>ES</span></div>
<div style="top:366.00px;height:10.00px;line-height:10.00px"><span>RO</span></div>
<div class="o l" style="top:376.00px;height:9.40px;line-height:9.40px"><span>CY</span></div>
</div>
<div class="c" style="left:415.62px">
<div style="top:23.10px;height:12.70px;line-height:12.70px"><span>DK</span></div>
<div style="top:35.80px;height:12.70px;line-height:12.70px"><span>LU</span></div>
<div style="top:48.50px;height:12.70px;line-height:12.70px"><span>BG</span></div>
<div style="top:61.20px;height:12.70px;line-height:12.70px"><span>NL</span></div>
<div style="top:73.90px;height:12.70px;line-height:12.70px"><span>DE</span></div>
<div style="top:86.60px;height:12.70px;line-height:12.70px"><span>EL</span></div>
<div style="top:99.30px;height:12.70px;line-height:12.70px"><span>CY</span></div>
<div style="top:112.00px;height:12.70px;line-height:12.70px"><span>SI</span></div>
<div style="top:124.70px;height:12.70px;line-height:12.70px"><span>AT</span></div>
<div style="top:137.40px;height:12.70px;line-height:12.70px"><span>IE</span></div>
<div style="top:150.10px;height:12.70px;line-height:12.70px"><span>LT</span></div>
<div style="top:162.80px;height:12.70px;line-height:12.70px"><span>MT</span></div>
<div style="top:175.50px;height:12.70px;line-height:12.70px"><span>SE</span></div>
<div style="top:188.20px;height:12.70px;line-height:12.70px"><span>CZ</span></div>
<div style="top:200.90px;height:12.70px;line-height:12.70px"><span>HR</span></div>
<div style="top:213.60px;height:12.70px;line-height:12.70px"><span>EE</span></div>
<div style="top:226.30px;height:12.70px;line-height:12.70px"><span>PT</span></div>
<div class="u" style="top:239.00px;height:12.70px;line-height:12.70px"><span>UE27</span></div>
<div style="top:251.70px;height:12.70px;line-height:12.70px"><span>LV</span></div>
<div style="top:264.40px;height:12.70px;line-height:12.70px"><span>EA</span></div>
<div style="top:277.10px;height:12.70px;line-height:12.70px"><span>PL</span></div>
<div style="top:289.80px;height:12.70px;line-height:12.70px"><span>FI</span></div>
<div style="top:302.50px;height:12.70px;line-height:12.70px"><span>SK</span></div>
<div style="top:315.20px;height:12.70px;line-height:12.70px"><span>IT</span></div>
<div style="top:327.90px;height:12.70px;line-height:12.70px"><span>BE</span></div>
<div style="top:340.60px;height:12.70px;line-height:12.70px"><span>HU</span></div>
<div class="o" style="top:353.30px;height:12.70px;line-height:12.70px"><span>ES</span></div>
<div class="o" style="top:366.00px;height:10.00px;line-height:10.00px"><span>FR</span></div>
<div class="o l" style="top:376.00px;height:9.40px;line-height:9.40px"><span>RO</span></div>
</div>
<div class="c" style="left:450.03px">
<div style="top:23.10px;height:12.70px;line-height:12.70px"><span>DK</span></div>
<div style="top:35.80px;height:12.70px;line-height:12.70px"><span>SE</span></div>
<div class="o" style="top:48.50px;height:12.70px;line-height:12.70px"><span>LU</span></div>
<div class="o" style="top:61.20px;height:12.70px;line-height:12.70px"><span>NL</span></div>
<div class="o" style="top:73.90px;height:12.70px;line-height:12.70px"><span>BG</span></div>
<div class="o" style="top:86.60px;height:12.70px;line-height:12.70px"><span>DE</span></div>
<div class="o" style="top:99.30px;height:12.70px;line-height:12.70px"><span>LV</span></div>
<div class="o" style="top:112.00px;height:12.70px;line-height:12.70px"><span>IE</span></div>
<div class="o" style="top:124.70px;height:12.70px;line-height:12.70px"><span>EE</span></div>
<div class="o" style="top:137.40px;height:12.70px;line-height:12.70px"><span>SK</span></div>
<div class="o" style="top:150.10px;height:12.70px;line-height:12.70px"><span>FI</span></div>
<div class="o" style="top:162.80px;height:12.70px;line-height:12.70px"><span>CY</span></div>
<div class="o" style="top:175.50px;height:12.70px;line-height:12.70px"><span>CZ</span></div>
<div class="o" style="top:188.20px;height:12.70px;line-height:12.70px"><span>PT</span></div>
<div class="o" style="top:200.90px;height:12.70px;line-height:12.70px"><span>LT</span></div>
<div class="o u" style="top:213.60px;height:12.70px;line-height:12.70px"><span>UE27</span></div>
<div class="o" style="top:226.30px;height:12.70px;line-height:12.70px"><span>PL</span></div>
<div class="r" style="top:239.00px;height:12.70px;line-height:12.70px"><span>EA</span></div>
<div class="r" style="top:251.70px;height:12.70px;line-height:12.70px"><span>HR</span></div>
<div class="r" style="top:264.40px;height:12.70px;line-height:12.70px"><span>HU</span></div>
<div class="r" style="top:277.10px;height:12.70px;line-height:12.70px"><span>SI</span></div>
<div class="r" style="top:289.80px;height:12.70px;line-height:12.70px"><span>AT</span></div>
<div class="r" style="top:302.50px;height:12.70px;line-height:12.70px"><span>BE</span></div>
<div class="r" style="top:315.20px;height:12.70px;line-height:12.70px"><span>FR</span></div>
<div class="r" style="top:327.90px;height:12.70px;line-height:12.70px"><span>RO</span></div>
<div class="r" style="top:340.60px;height:12.70px;line-height:12.70px"><span>IT</span></div>
<div class="r" style="top:353.30px;height:12.70px;line-height:12.70px"><span>MT</span></div>
<div class="r" style="top:366.00px;height:10.00px;line-height:10.00px"><span>EL</span></div>
<div class="r l" style="top:376.00px;height:9.40px;line-height:9.40px"><span>ES</span></div>
</div>
<div class="c" style="left:484.44px">
<div style="top:23.10px;height:12.70px;line-height:12.70px"><span>DK</span></div>
<div style="top:35.80px;height:12.70px;line-height:12.70px"><span>LU</span></div>
<div style="top:48.50px;height:12.70px;line-height:12.70px"><span>SE</span></div>
<div style="top:61.20px;height:12.70px;line-height:12.70px"><span>LT</span></div>
<div style="top:73.90px;height:12.70px;line-height:12.70px"><span>IE</span></div>
<div style="top:86.60px;height:12.70px;line-height:12.70px"><span>PL</span></div>
<div style="top:99.30px;height:12.70px;line-height:12.70px"><span>CY</span></div>
<div style="top:112.00px;height:12.70px;line-height:12.70px"><span>NL</span></div>
<div style="top:124.70px;height:12.70px;line-height:12.70px"><span>EE</span></div>
<div style="top:137.40px;height:12.70px;line-height:12.70px"><span>HR</span></div>
<div style="top:150.10px;height:12.70px;line-height:12.70px"><span>FI</span></div>
<div style="top:162.80px;height:12.70px;line-height:12.70px"><span>PT</span></div>
<div class="o" style="top:175.50px;height:12.70px;line-height:12.70px"><span>DE</span></div>
<div class="o" style="top:188.20px;height:12.70px;line-height:12.70px"><span>BG</span></div>
<div class="o" style="top:200.90px;height:12.70px;line-height:12.70px"><span>SI</span></div>
<div class="o u" style="top:213.60px;height:12.70px;line-height:12.70px"><span>UE27</span></div>
<div class="o" style="top:226.30px;height:12.70px;line-height:12.70px"><span>CZ</span></div>
<div class="o" style="top:239.00px;height:12.70px;line-height:12.70px"><span>EA</span></div>
<div class="o" style="top:251.70px;height:12.70px;line-height:12.70px"><span>SK</span></div>
<div class="o" style="top:264.40px;height:12.70px;line-height:12.70px"><span>BE</span></div>
<div class="o" style="top:277.10px;height:12.70px;line-height:12.70px"><span>AT</span></div>
<div class="o" style="top:289.80px;height:12.70px;line-height:12.70px"><span>FR</span></div>
<div class="o" style="top:302.50px;height:12.70px;line-height:12.70px"><span>ES</span></div>
<div class="o" style="top:315.20px;height:12.70px;line-height:12.70px"><span>EL</span></div>
<div class="r" style="top:327.90px;height:12.70px;line-height:12.70px"><span>LV</span></div>
<div class="r" style="top:340.60px;height:12.70px;line-height:12.70px"><span>HU</span></div>
<div class="r" style="top:353.30px;height:12.70px;line-height:12.70px"><span>RO</span></div>
<div class="r" style="top:366.00px;height:10.00px;line-height:10.00px"><span>MT</span></div>
<div class="r l" style="top:376.00px;height:9.40px;line-height:9.40px"><span>IT</span></div>
</div>
<div class="c" style="left:518.85px">
<div style="top:23.10px;height:12.70px;line-height:12.70px"><span>DK</span></div>
<div style="top:35.80px;height:12.70px;line-height:12.70px"><span>CY</span></div>
<div style="top:48.50px;height:12.70px;line-height:12.70px"><span>IE</span></div>
<div style="top:61.20px;height:12.70px;line-height:12.70px"><span>SE</span></div>
<div style="top:73.90px;height:12.70px;line-height:12.70px"><span>HR</span></div>
<div style="top:86.60px;height:12.70px;line-height:12.70px"><span>NL</span></div>
<div style="top:99.30px;height:12.70px;line-height:12.70px"><span>LU</span></div>
<div style="top:112.00px;height:12.70px;line-height:12.70px"><span>PT</span></div>
<div style="top:124.70px;height:12.70px;line-height:12.70px"><span>LT</span></div>
<div style="top:137.40px;height:12.70px;line-height:12.70px"><span>FI</span></div>
<div style="top:150.10px;height:12.70px;line-height:12.70px"><span>EE</span></div>
<div style="top:162.80px;height:12.70px;line-height:12.70px"><span>SK</span></div>
<div style="top:175.50px;height:12.70px;line-height:12.70px"><span>EL</span></div>
<div style="top:188.20px;height:12.70px;line-height:12.70px"><span>DE</span></div>
<div style="top:200.90px;height:12.70px;line-height:12.70px"><span>BG</span></div>
<div style="top:213.60px;height:12.70px;line-height:12.70px"><span>SI</span></div>
<div class="o" style="top:226.30px;height:12.70px;line-height:12.70px"><span>CZ</span></div>
<div class="o u" style="top:239.00px;height:12.70px;line-height:12.70px"><span>UE27</span></div>
<div class="o" style="top:251.70px;height:12.70px;line-height:12.70px"><span>BE</span></div>
<div class="o" style="top:264.40px;height:12.70px;line-height:12.70px"><span>AT</span></div>
<div class="o" style="top:277.10px;height:12.70px;line-height:12.70px"><span>EA</span></div>
<div class="o" style="top:289.80px;height:12.70px;line-height:12.70px"><span>PL</span></div>
<div class="o" style="top:302.50px;height:12.70px;line-height:12.70px"><span>LV</span></div>
<div class="o" style="top:315.20px;height:12.70px;line-height:12.70px"><span>ES</span></div>
<div class="o" style="top:327.90px;height:12.70px;line-height:12.70px"><span>FR</span></div>
<div class="o" style="top:340.60px;height:12.70px;line-height:12.70px"><span>MT</span></div>
<div class="o" style="top:353.30px;height:12.70px;line-height:12.70px"><span>HU</span></div>
<div class="o" style="top:366.00px;height:10.00px;line-height:10.00px"><span>RO</span></div>
<div class="r l" style="top:376.00px;height:9.40px;line-height:9.40px"><span>IT</span></div>
</div>
<div class="c" style="left:553.26px">
<div style="top:23.10px;height:12.70px;line-height:12.70px"><span>DK</span></div>
<div style="top:35.80px;height:12.70px;line-height:12.70px"><span>CY</span></div>
<div style="top:48.50px;height:12.70px;line-height:12.70px"><span>IE</span></div>
<div style="top:61.20px;height:12.70px;line-height:12.70px"><span>PT</span></div>
<div style="top:73.90px;height:12.70px;line-height:12.70px"><span>HR</span></div>
<div style="top:86.60px;height:12.70px;line-height:12.70px"><span>SE</span></div>
<div style="top:99.30px;height:12.70px;line-height:12.70px"><span>NL</span></div>
<div style="top:112.00px;height:12.70px;line-height:12.70px"><span>LT</span></div>
<div style="top:124.70px;height:12.70px;line-height:12.70px"><span>LU</span></div>
<div style="top:137.40px;height:12.70px;line-height:12.70px"><span>DE</span></div>
<div style="top:150.10px;height:12.70px;line-height:12.70px"><span>EL</span></div>
<div style="top:162.80px;height:12.70px;line-height:12.70px"><span>FI</span></div>
<div style="top:175.50px;height:12.70px;line-height:12.70px"><span>AT</span></div>
<div style="top:188.20px;height:12.70px;line-height:12.70px"><span>EE</span></div>
<div style="top:200.90px;height:12.70px;line-height:12.70px"><span>BG</span></div>
<div class="o u" style="top:213.60px;height:12.70px;line-height:12.70px"><span>UE27</span></div>
<div class="o" style="top:226.30px;height:12.70px;line-height:12.70px"><span>EA</span></div>
<div class="o" style="top:239.00px;height:12.70px;line-height:12.70px"><span>LV</span></div>
<div class="o" style="top:251.70px;height:12.70px;line-height:12.70px"><span>SI</span></div>
<div class="o" style="top:264.40px;height:12.70px;line-height:12.70px"><span>CZ</span></div>
<div class="o" style="top:277.10px;height:12.70px;line-height:12.70px"><span>ES</span></div>
<div class="o" style="top:289.80px;height:12.70px;line-height:12.70px"><span>FR</span></div>
<div class="o" style="top:302.50px;height:12.70px;line-height:12.70px"><span>BE</span></div>
<div class="o" style="top:315.20px;height:12.70px;line-height:12.70px"><span>MT</span></div>
<div class="o" style="top:327.90px;height:12.70px;line-height:12.70px"><span>IT</span></div>
<div class="o" style="top:340.60px;height:12.70px;line-height:12.70px"><span>SK</span></div>
<div class="o" style="top:353.30px;height:12.70px;line-height:12.70px"><span>HU</span></div>
<div class="o" style="top:366.00px;height:10.00px;line-height:10.00px"><span>PL</span></div>
<div class="o l" style="top:376.00px;height:9.40px;line-height:9.40px"><span>RO</span></div>
</div>
<div class="c" style="left:587.67px">
<div style="top:23.10px;height:12.70px;line-height:12.70px"><span>CY</span></div>
<div style="top:35.80px;height:12.70px;line-height:12.70px"><span>DK</span></div>
<div style="top:48.50px;height:12.70px;line-height:12.70px"><span>IE</span></div>
<div style="top:61.20px;height:12.70px;line-height:12.70px"><span>PT</span></div>
<div style="top:73.90px;height:12.70px;line-height:12.70px"><span>SE</span></div>
<div style="top:86.60px;height:12.70px;line-height:12.70px"><span>EL</span></div>
<div style="top:99.30px;height:12.70px;line-height:12.70px"><span>DE</span></div>
<div style="top:112.00px;height:12.70px;line-height:12.70px"><span>NL</span></div>
<div style="top:124.70px;height:12.70px;line-height:12.70px"><span>HR</span></div>
<div style="top:137.40px;height:12.70px;line-height:12.70px"><span>LU</span></div>
<div style="top:150.10px;height:12.70px;line-height:12.70px"><span>LT</span></div>
<div style="top:162.80px;height:12.70px;line-height:12.70px"><span>AT</span></div>
<div style="top:175.50px;height:12.70px;line-height:12.70px"><span>CZ</span></div>
<div style="top:188.20px;height:12.70px;line-height:12.70px"><span>EE</span></div>
<div class="u" style="top:200.90px;height:12.70px;line-height:12.70px"><span>UE27</span></div>
<div style="top:213.60px;height:12.70px;line-height:12.70px"><span>EA</span></div>
<div style="top:226.30px;height:12.70px;line-height:12.70px"><span>BG</span></div>
<div class="o" style="top:239.00px;height:12.70px;line-height:12.70px"><span>LV</span></div>
<div class="o" style="top:251.70px;height:12.70px;line-height:12.70px"><span>ES</span></div>
<div class="o" style="top:264.40px;height:12.70px;line-height:12.70px"><span>FI</span></div>
<div class="o" style="top:277.10px;height:12.70px;line-height:12.70px"><span>SI</span></div>
<div class="o" style="top:289.80px;height:12.70px;line-height:12.70px"><span>HU</span></div>
<div class="o" style="top:302.50px;height:12.70px;line-height:12.70px"><span>IT</span></div>
<div class="o" style="top:315.20px;height:12.70px;line-height:12.70px"><span>FR</span></div>
<div class="o" style="top:327.90px;height:12.70px;line-height:12.70px"><span>MT</span></div>
<div class="o" style="top:340.60px;height:12.70px;line-height:12.70px"><span>PL</span></div>
<div class="o" style="top:353.30px;height:12.70px;line-height:12.70px"><span>BE</span></div>
<div class="o" style="top:366.00px;height:10.00px;line-height:10.00px"><span>RO</span></div>
<div class="o l" style="top:376.00px;height:9.40px;line-height:9.40px"><span>SK</span></div>
</div>
<div class="c" style="left:622.08px">
<div style="top:23.10px;height:12.70px;line-height:12.70px"><span>CY</span></div>
<div style="top:35.80px;height:12.70px;line-height:12.70px"><span>DK</span></div>
<div style="top:48.50px;height:12.70px;line-height:12.70px"><span>IE</span></div>
<div style="top:61.20px;height:12.70px;line-height:12.70px"><span>PT</span></div>
<div style="top:73.90px;height:12.70px;line-height:12.70px"><span>SE</span></div>
<div style="top:86.60px;height:12.70px;line-height:12.70px"><span>EL</span></div>
<div style="top:99.30px;height:12.70px;line-height:12.70px"><span>LU</span></div>
<div style="top:112.00px;height:12.70px;line-height:12.70px"><span>DE</span></div>
<div style="top:124.70px;height:12.70px;line-height:12.70px"><span>HR</span></div>
<div style="top:137.40px;height:12.70px;line-height:12.70px"><span>CZ</span></div>
<div style="top:150.10px;height:12.70px;line-height:12.70px"><span>NL</span></div>
<div style="top:162.80px;height:12.70px;line-height:12.70px"><span>LT</span></div>
<div style="top:175.50px;height:12.70px;line-height:12.70px"><span>AT</span></div>
<div class="u" style="top:188.20px;height:12.70px;line-height:12.70px"><span>UE27</span></div>
<div style="top:200.90px;height:12.70px;line-height:12.70px"><span>EA</span></div>
<div style="top:213.60px;height:12.70px;line-height:12.70px"><span>SI</span></div>
<div class="o" style="top:226.30px;height:12.70px;line-height:12.70px"><span>LV</span></div>
<div class="o" style="top:239.00px;height:12.70px;line-height:12.70px"><span>BG</span></div>
<div class="o" style="top:251.70px;height:12.70px;line-height:12.70px"><span>ES</span></div>
<div class="o" style="top:264.40px;height:12.70px;line-height:12.70px"><span>FI</span></div>
<div class="o" style="top:277.10px;height:12.70px;line-height:12.70px"><span>EE</span></div>
<div class="o" style="top:289.80px;height:12.70px;line-height:12.70px"><span>HU</span></div>
<div class="o" style="top:302.50px;height:12.70px;line-height:12.70px"><span>PL</span></div>
<div class="o" style="top:315.20px;height:12.70px;line-height:12.70px"><span>MT</span></div>
<div class="o" style="top:327.90px;height:12.70px;line-height:12.70px"><span>IT</span></div>
<div class="o" style="top:340.60px;height:12.70px;line-height:12.70px"><span>FR</span></div>
<div class="o" style="top:353.30px;height:12.70px;line-height:12.70px"><span>BE</span></div>
<div class="o" style="top:366.00px;height:10.00px;line-height:10.00px"><span>RO</span></div>
<div class="o l" style="top:376.00px;height:9.40px;line-height:9.40px"><span>SK</span></div>
</div>
<div class="yr" style="left:-1.10px"><span>2007</span></div>
<div class="yr" style="left:33.31px"><span>2008</span></div>
<div class="yr" style="left:67.72px"><span>2009</span></div>
<div class="yr" style="left:102.13px"><span>2010</span></div>
<div class="yr" style="left:136.54px"><span>2011</span></div>
<div class="yr" style="left:170.95px"><span>2012</span></div>
<div class="yr" style="left:205.36px"><span>2013</span></div>
<div class="yr" style="left:239.77px"><span>2014</span></div>
<div class="yr" style="left:274.18px"><span>2015</span></div>
<div class="yr" style="left:308.59px"><span>2016</span></div>
<div class="yr" style="left:343.00px"><span>2017</span></div>
<div class="yr" style="left:377.41px"><span>2018</span></div>
<div class="yr" style="left:411.82px"><span>2019</span></div>
<div class="yr" style="left:446.23px"><span>2020</span></div>
<div class="yr" style="left:480.64px"><span>2021</span></div>
<div class="yr" style="left:515.05px"><span>2022</span></div>
<div class="yr" style="left:549.46px"><span>2023</span></div>
<div class="yr" style="left:583.87px"><span>2024</span></div>
<div class="yr" style="left:618.28px"><span>2025</span></div>
<div class="lg" style="left:107.22px">peste 0%</div>
<div class="lg" style="left:210.45px">între -1,5 și 0%</div>
<div class="lg" style="left:313.68px">între -3 și -1,5%</div>
<div class="lg" style="left:416.91px">între -7 și -3%</div>
<div class="lg" style="left:520.14px">sub -7%</div>
</body>
</html>
